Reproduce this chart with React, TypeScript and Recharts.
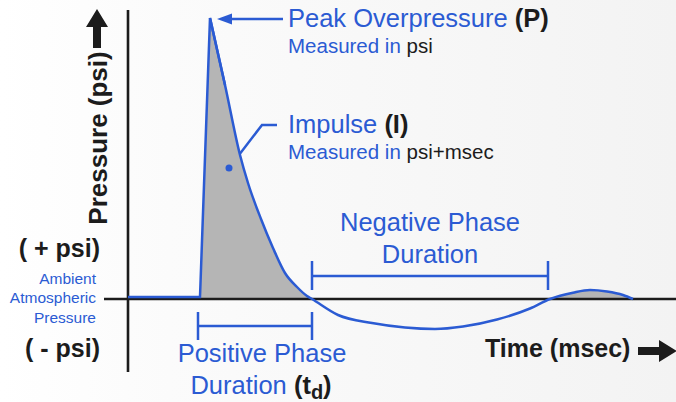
import { ComposedChart, Line, Area, XAxis, YAxis, ReferenceLine, ReferenceDot, Customized } from 'recharts';

// blast wave pressure-time history (t in msec units, p in psi units)
const riseT = [0, 18, 20.5];
const riseP = [0.2, 0.2, 28.1];
const decayT = [20.5, 24.25, 28, 30, 33.25, 36.25, 39.25, 42.25, 44.75, 46, 52.5, 61, 69.25, 76.75, 83.75, 92.25, 100.5, 105.5, 111.25, 115.5, 119.75, 123.75, 126.25];
const decayP = [28.1, 21.4, 14.4, 11.6, 8.0, 5.1, 2.6, 1.2, 0.3, 0, -1.6, -2.4, -2.85, -3.0, -2.75, -2.05, -0.95, 0, 0.63, 0.9, 0.75, 0.4, 0];

// phase durations
const positivePhase = [17.5, 46];
const negativePhase = [46, 105];
const impulsePoint = { t: 25.25, p: 13.1 };

const BLUE = '#2b5bd3';
const INK = '#1c1c1c';
const FILL = '#b5b5b5';
const FONT = '"Liberation Sans", Arial, Helvetica, sans-serif';

const W = 676;
const H = 402;
const M = { top: 10, right: 0, bottom: 30, left: 104 };
const X_DOMAIN: [number, number] = [-6, 137];
const Y_DOMAIN: [number, number] = [-7.3, 28.9];
const zeroY = M.top + (Y_DOMAIN[1] / (Y_DOMAIN[1] - Y_DOMAIN[0])) * (H - M.top - M.bottom);

const rise = riseT.map((t, i) => ({ t, p: riseP[i] }));
const decay = decayT.map((t, i) => ({ t, p: decayP[i] }));
// rise stroke runs one point into the decay so the peak gets a joined corner
const riseStroke = [...rise, decay[1]];

const Annotations = () => (
  <g fontFamily={FONT}>
    {/* y axis title + arrow */}
    <path d="M97,9 L108,27 L101,27 L101,48 L93,48 L93,27 L86,27 Z" fill={INK} />
    <text transform="translate(107,138) rotate(-90)" textAnchor="middle" fontSize={26} fontWeight="bold" fill={INK}>
      Pressure (psi)
    </text>
    <text x={100} y={257} textAnchor="end" fontSize={25} fontWeight="bold" fill={INK}>( + psi)</text>
    <text x={100} y={357} textAnchor="end" fontSize={25} fontWeight="bold" fill={INK}>( - psi)</text>
    <g fontSize={15.5} fill={BLUE} textAnchor="end">
      <text x={96} y={284}>Ambient</text>
      <text x={96} y={303}>Atmospheric</text>
      <text x={96} y={323}>Pressure</text>
    </g>

    {/* peak overpressure */}
    <line x1={230} y1={19} x2={283} y2={19} stroke={BLUE} strokeWidth={2.5} />
    <path d="M217,19 L232,13.5 L232,24.5 Z" fill={BLUE} />
    <text x={288} y={27} fontSize={25.5} fill={BLUE}>
      Peak Overpressure <tspan fontWeight="bold" fill={INK}>(P)</tspan>
    </text>
    <text x={288} y={53} fontSize={20.5} fill={BLUE}>
      Measured in <tspan fill={INK}>psi</tspan>
    </text>

    {/* impulse */}
    <polyline points="229,168 262,125 277,125" fill="none" stroke={BLUE} strokeWidth={2.5} />
    <text x={288} y={133} fontSize={25.5} fill={BLUE}>
      Impulse <tspan fontWeight="bold" fill={INK}>(I)</tspan>
    </text>
    <text x={288} y={159} fontSize={20.5} fill={BLUE}>
      Measured in <tspan fill={INK}>psi+msec</tspan>
    </text>

    {/* phase labels */}
    <text x={430} y={231} textAnchor="middle" fontSize={25.5} fill={BLUE}>Negative Phase</text>
    <text x={430} y={263} textAnchor="middle" fontSize={25.5} fill={BLUE}>Duration</text>
    <text x={262} y={362} textAnchor="middle" fontSize={25.5} fill={BLUE}>Positive Phase</text>
    <text x={261} y={394} textAnchor="middle" fontSize={25.5} fill={BLUE}>
      Duration <tspan fontWeight="bold" fill={INK}>(t</tspan>
      <tspan fontWeight="bold" fill={INK} fontSize={20} dy={5}>d</tspan>
      <tspan fontWeight="bold" fill={INK} dy={-5}>)</tspan>
    </text>

    {/* x axis title + arrow */}
    <text x={485} y={357} fontSize={25} fontWeight="bold" fill={INK}>Time (msec)</text>
    <path d="M638,347 L659,347 L659,340 L677,351 L659,362 L659,355 L638,355 Z" fill={INK} />
  </g>
);

export default function App() {
  return (
    <div style={{ width: W, height: H, background: 'linear-gradient(90deg, #ffffff 0%, #fbfbfb 25%, #f3f3f3 100%)' }}>
      <style>{'body{margin:0}'}</style>
      <ComposedChart width={W} height={H} margin={M}>
        <defs>
          <linearGradient id="posFill" gradientUnits="userSpaceOnUse" x1={0} y1={0} x2={0} y2={H}>
            <stop offset={zeroY / H} stopColor={FILL} />
            <stop offset={zeroY / H} stopColor={FILL} stopOpacity={0} />
          </linearGradient>
        </defs>
        <XAxis type="number" dataKey="t" domain={X_DOMAIN} hide allowDataOverflow />
        <YAxis type="number" dataKey="p" domain={Y_DOMAIN} hide allowDataOverflow />

        <Area data={rise} dataKey="p" type="linear" baseValue={0} stroke="none" fill="url(#posFill)" fillOpacity={1} dot={false} activeDot={false} isAnimationActive={false} />
        <Area data={decay} dataKey="p" type="monotone" baseValue={0} stroke="none" fill="url(#posFill)" fillOpacity={1} dot={false} activeDot={false} isAnimationActive={false} />

        <ReferenceLine x={0} stroke={INK} strokeWidth={2.6} />
        <ReferenceLine y={0} stroke={INK} strokeWidth={2.6} />

        <Line data={riseStroke} dataKey="p" type="linear" stroke={BLUE} strokeWidth={2.5} dot={false} activeDot={false} isAnimationActive={false} />
        <Line data={decay} dataKey="p" type="monotone" stroke={BLUE} strokeWidth={2.5} dot={false} activeDot={false} isAnimationActive={false} />

        {/* positive phase bracket */}
        <ReferenceLine segment={[{ x: positivePhase[0], y: -2.7 }, { x: positivePhase[1], y: -2.7 }]} stroke={BLUE} strokeWidth={2.5} ifOverflow="visible" />
        <ReferenceLine segment={[{ x: positivePhase[0], y: -1.3 }, { x: positivePhase[0], y: -4.1 }]} stroke={BLUE} strokeWidth={2.5} ifOverflow="visible" />
        <ReferenceLine segment={[{ x: positivePhase[1], y: -1.3 }, { x: positivePhase[1], y: -4.1 }]} stroke={BLUE} strokeWidth={2.5} ifOverflow="visible" />

        {/* negative phase bracket */}
        <ReferenceLine segment={[{ x: negativePhase[0], y: 2.3 }, { x: negativePhase[1], y: 2.3 }]} stroke={BLUE} strokeWidth={2.5} ifOverflow="visible" />
        <ReferenceLine segment={[{ x: negativePhase[0], y: 3.8 }, { x: negativePhase[0], y: 0.9 }]} stroke={BLUE} strokeWidth={2.5} ifOverflow="visible" />
        <ReferenceLine segment={[{ x: negativePhase[1], y: 3.8 }, { x: negativePhase[1], y: 0.9 }]} stroke={BLUE} strokeWidth={2.5} ifOverflow="visible" />

        <ReferenceDot x={impulsePoint.t} y={impulsePoint.p} r={3.5} fill={BLUE} stroke="none" ifOverflow="visible" />

        <Customized component={Annotations} />
      </ComposedChart>
    </div>
  );
}
